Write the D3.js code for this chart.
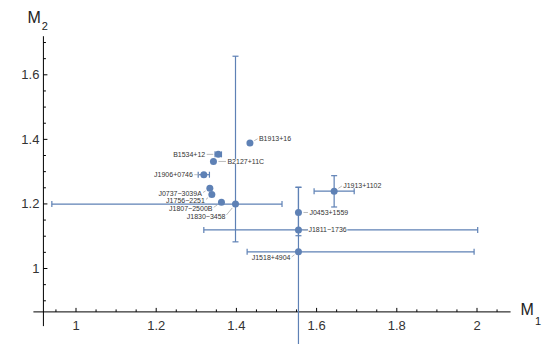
<!DOCTYPE html>
<meta charset="utf-8">
<style>
 body { margin: 0; background: #fff; }
 svg { display: block; font-family: "Liberation Sans", Arial, sans-serif; }
 .axis path { display: none; }
 .axis line { stroke: #000; }
 .axis text { fill: #333; font-size: 13px; }
 .bar { stroke: #5E81B5; stroke-width: 1.2; fill: none; }
 .point { fill: #5E81B5; }
 .lbl { font-size: 7px; fill: #333; }
 .lead { stroke: #aaa; stroke-width: 0.8; }
</style>
<body>
<script src="https://cdn.jsdelivr.net/npm/d3@7"></script>
<script>

 var names = ["B1913+16", "B1534+12", "B2127+11C", "J1906+0746", "J0737\u22123039A", "J1756\u22122251",
              "J1807\u22122500B", "J1830\u22123458", "J1913+1102", "J0453+1559", "J1811\u22121736", "J1518+4904"];
 var m1 = [1.435, 1.356, 1.344, 1.320, 1.335, 1.340, 1.364, 1.399, 1.645, 1.556, 1.556, 1.556];
 var m2 = [1.387, 1.352, 1.330, 1.289, 1.247, 1.228, 1.204, 1.198, 1.238, 1.172, 1.118, 1.050];
 // error ranges (null = no bar)
 var m1Lo = [null, 1.348, null, 1.306, null, null, null, 0.941, 1.595, null, 1.320, 1.428];
 var m1Hi = [null, 1.364, null, 1.334, null, null, null, 1.515, 1.695, null, 2.003, 1.994];
 var m2Lo = [null, null, null, null, null, null, null, 1.081, 1.189, 1.100, null, 0.700];
 var m2Hi = [null, null, null, null, null, null, null, 1.656, 1.286, 1.250, null, 1.250];

 var xTicks = [1, 1.2, 1.4, 1.6, 1.8, 2];
 var yTicks = [1, 1.2, 1.4, 1.6];

 // callout placement: offset of the label from its point, and text anchor
 var labelPos = [[9, -5, "start"], [-13, 0, "end"], [14, 0, "start"], [-11, 0, "end"],
                 [-8, 5, "end"], [-7, 6, "end"], [-9, 6, "end"], [-10, 12, "end"],
                 [9, -6, "start"], [11, 0, "start"], [10, 0, "start"], [-8, 6, "end"]];

 var width = 546, height = 344;

 var xScale = d3.scaleLinear().domain([1, 2]).range([75.5, 476.5]);
 var yScale = d3.scaleLinear().domain([1, 1.6]).range([268, 74.3]);

 var origin = {x: 0.92, y: 0.864};

 var svg = d3.select("body").append("svg")
             .attr("width", width)
             .attr("height", height);

 function isMajor(v) { return Math.abs(v * 5 - Math.round(v * 5)) < 1e-6; }

 // x axis
 var gX = svg.append("g").attr("class", "axis")
             .attr("transform", "translate(0," + yScale(origin.y) + ")");
 gX.call(d3.axisBottom(xScale).tickValues(xTicks).tickSizeInner(-4).tickSizeOuter(0)
           .tickPadding(9).tickFormat(d3.format("~g")));
 gX.append("g").call(d3.axisBottom(xScale)
           .tickValues(d3.range(0.95, 2.06, 0.05).filter(function(v) { return !isMajor(v); }))
           .tickSizeInner(-2.5).tickSizeOuter(0).tickFormat(""));
 gX.append("line").attr("x1", xScale(0.895)).attr("x2", xScale(2.085)).attr("stroke", "#000");

 // y axis
 var gY = svg.append("g").attr("class", "axis")
             .attr("transform", "translate(" + xScale(origin.x) + ",0)");
 gY.call(d3.axisLeft(yScale).tickValues(yTicks).tickSizeInner(-4).tickSizeOuter(0)
           .tickPadding(4).tickFormat(d3.format("~g")));
 gY.append("g").call(d3.axisLeft(yScale)
           .tickValues(d3.range(0.9, 1.71, 0.05).filter(function(v) { return !isMajor(v); }))
           .tickSizeInner(-2.5).tickSizeOuter(0).tickFormat(""));
 gY.append("line").attr("y1", yScale(1.718)).attr("y2", yScale(0.82)).attr("stroke", "#000");

 // axis labels
 var xl = svg.append("text").attr("x", xScale(2.085) + 10).attr("y", yScale(origin.y) + 3)
             .attr("font-size", 16).attr("fill", "#222");
 xl.append("tspan").text("M");
 xl.append("tspan").attr("font-size", 11).attr("dy", 10).attr("dx", 1).text("1");

 var yl = svg.append("text").attr("x", xScale(origin.x) - 16).attr("y", yScale(1.718) - 13)
             .attr("font-size", 16).attr("fill", "#222");
 yl.append("tspan").text("M");
 yl.append("tspan").attr("font-size", 11).attr("dy", 7).attr("dx", 1).text("2");

 var idx = d3.range(names.length);
 var cap = 3;

 // error bars
 var bars = svg.append("g");
 idx.forEach(function(i) {
     var px = xScale(m1[i]), py = yScale(m2[i]);
     if (m1Lo[i] != null) {
         bars.append("line").attr("class", "bar")
             .attr("x1", xScale(m1Lo[i])).attr("x2", xScale(m1Hi[i])).attr("y1", py).attr("y2", py);
         [m1Lo[i], m1Hi[i]].forEach(function(v) {
             bars.append("line").attr("class", "bar")
                 .attr("x1", xScale(v)).attr("x2", xScale(v)).attr("y1", py - cap).attr("y2", py + cap);
         });
     }
     if (m2Lo[i] != null) {
         bars.append("line").attr("class", "bar")
             .attr("x1", px).attr("x2", px).attr("y1", yScale(m2Lo[i])).attr("y2", yScale(m2Hi[i]));
         [m2Lo[i], m2Hi[i]].forEach(function(v) {
             bars.append("line").attr("class", "bar")
                 .attr("x1", px - cap).attr("x2", px + cap).attr("y1", yScale(v)).attr("y2", yScale(v));
         });
     }
 });

 // callouts
 var r = 3.5;
 var labels = svg.append("g");
 idx.forEach(function(i) {
     var px = xScale(m1[i]), py = yScale(m2[i]);
     var dx = labelPos[i][0], dy = labelPos[i][1];
     var ax = px + dx, ay = py + dy;
     var bg = labels.append("rect").attr("fill", "#fff");
     var t = labels.append("text").attr("class", "lbl")
                   .attr("x", ax).attr("y", ay).attr("dy", "0.35em")
                   .attr("text-anchor", labelPos[i][2]).text(names[i]);
     var bb = t.node().getBBox();
     bg.attr("x", bb.x - 0.5).attr("y", bb.y + 1).attr("width", bb.width + 1).attr("height", bb.height - 2);
     var len = Math.sqrt(dx * dx + dy * dy), ux = dx / len, uy = dy / len;
     labels.append("line").attr("class", "lead")
           .attr("x1", px + ux * (r + 1.5)).attr("y1", py + uy * (r + 1.5))
           .attr("x2", ax - ux * 1.5).attr("y2", ay - uy * 1.5);
 });

 // points
 svg.append("g").selectAll("circle")
    .data(idx)
    .enter().append("circle")
    .attr("class", "point")
    .attr("cx", function(i) { return xScale(m1[i]); })
    .attr("cy", function(i) { return yScale(m2[i]); })
    .attr("r", r);

</script>
